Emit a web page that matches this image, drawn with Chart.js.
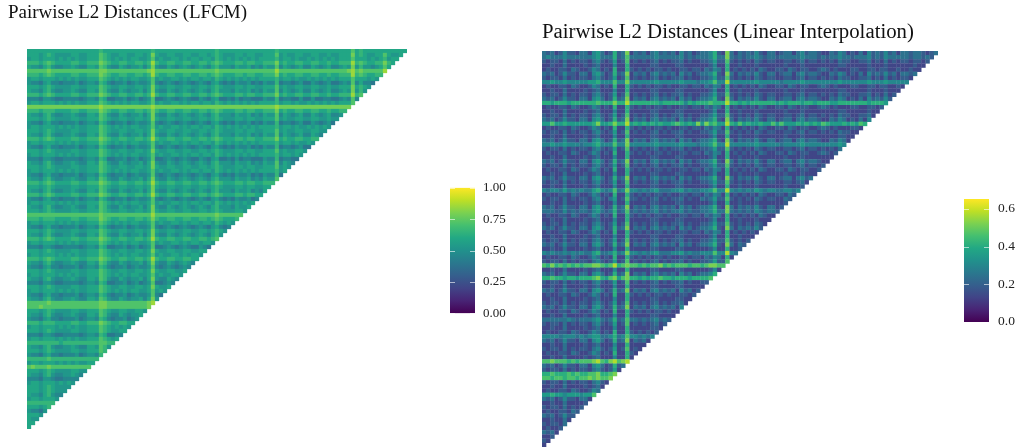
<!DOCTYPE html>
<html>
<head>
<meta charset="utf-8">
<script src="https://cdn.jsdelivr.net/npm/chart.js@4"></script>
<style>
  html, body { margin: 0; background: #fff; overflow: hidden; }
  canvas { position: absolute; }
</style>
</head>
<body>
<canvas id="lfcm" style="left:8px;top:0" width="399" height="429"></canvas>
<canvas id="lfcmBar" style="left:450px;top:172px" width="62" height="157"></canvas>
<canvas id="linear" style="left:542px;top:20px" width="396" height="427"></canvas>
<canvas id="linearBar" style="left:964px;top:182px" width="53" height="157"></canvas>
<script>
// one digit per cell, upper-left triangle only
const lfcmRows = [
"44444 44444 44444 44454 44444 44444 45444 44444 44444 44544 44444 44444 44544 44444 44444 44444 46454 44444 44444",
"44434 54333 34433 44465 43344 33443 47433 44334 43344 34543 33443 44334 44634 33443 34433 43344 47454 33446 43344",
"34434 44343 43433 44465 43434 34433 46343 34434 34434 43543 43434 34344 44534 43433 43434 34344 46444 34345 34434",
"55545 65444 45544 55576 54455 44554 58544 55445 54455 45654 44554 55445 55745 44554 45544 54455 58565 44557 54455",
"43324 53223 34322 44365 32243 23342 47322 43234 32343 24533 32433 42324 33624 32342 24323 42234 37353 32346 42243",
"66666 76666 66666 66677 66666 66666 78666 66666 66666 66766 66666 66666 66866 66666 66666 66666 78676 66668",
"55545 65444 45544 55576 54455 44554 58544 55445 54455 45654 44554 55445 55745 44554 45544 54455 58565 44557",
"34434 44343 43433 44465 43434 34433 46343 34434 34434 43543 43434 34344 44534 43433 43434 34344 46444 34345",
"32213 42212 22312 33254 21223 12322 36212 32123 21232 13421 21322 31213 22512 21231 13212 31123 26242 21235",
"44434 54333 34433 44465 43344 33443 47433 44334 43344 34543 33443 44334 44634 33443 34433 43344 47454 33446",
"43324 53223 34322 44365 32243 23342 47322 43234 32343 24533 32433 42324 33624 32342 24323 42234 37353",
"55545 65444 45544 55576 54455 44554 58544 55445 54455 45654 44554 55445 55745 44554 45544 54455 58565",
"22213 32112 22212 33254 11223 12312 36112 32123 21132 13411 21312 21113 22512 21131 13112 21123 26232",
"34434 44343 43433 44465 43434 34433 46343 34434 34434 43543 43434 34344 44534 43433 43434 34344 46444",
"77777 77777 77777 77787 77777 77777 78777 77777 77777 77777 77777 77777 77877 77777 77777 77777 77787",
"55545 55444 45544 55576 54455 44554 57544 55445 54455 45654 44554 55445 55745 44554 45544 54455",
"43324 53223 34322 44365 32243 23342 47322 43234 32343 24533 32433 42324 33624 32342 24323 42234",
"44434 54333 34433 44465 43344 33443 47433 44334 43344 34543 33443 44334 44634 33443 34433 43344",
"32213 42212 22312 33254 21223 12322 36212 32123 21232 13421 21322 31213 22512 21231 13212 31123",
"34434 44343 43433 44465 43434 34433 46343 34434 34434 43543 43434 34344 44534 43433 43434 34344",
"44434 54333 34433 44465 43344 33443 47433 44334 43344 34543 33443 44334 44634 33443 34433",
"43324 53223 34322 44365 32243 23342 47322 43234 32343 24533 32433 42324 33624 32342 24323",
"55545 65444 45544 55576 54455 44554 58544 55445 54455 45654 44554 55445 55745 44554 45544",
"34434 44343 43433 44465 43434 34433 46343 34434 34434 43543 43434 34344 44534 43433 43434",
"32213 42212 22312 33254 21223 12322 36212 32123 21232 13421 21322 31213 22512 21231 13212",
"44434 54333 34433 44465 43344 33443 47433 44334 43344 34543 33443 44334 44634 33443",
"34434 44343 43433 44465 43434 34433 46343 34434 34434 43543 43434 34344 44534 43433",
"22213 32112 22212 33254 11223 12312 36112 32123 21132 13411 21312 21113 22512 21131",
"43324 53223 34322 44365 32243 23342 47322 43234 32343 24533 32433 42324 33624 32342",
"44434 54333 34433 44465 43344 33443 47433 44334 43344 34543 33443 44334 44634 33443",
"34434 44343 43433 44465 43434 34433 46343 34434 34434 43543 43434 34344 44534",
"32213 42212 22312 33254 21223 12322 36212 32123 21232 13421 21322 31213 22512",
"43324 53223 34322 44365 32243 23342 47322 43234 32343 24533 32433 42324 33624",
"55545 65444 45544 55576 54455 44554 58544 55445 54455 45654 44554 55445 55745",
"44434 54333 34433 44465 43344 33443 47433 44334 43344 34543 33443 44334 44634",
"43324 53223 34322 44365 32243 23342 47322 43234 32343 24533 32433 42324",
"55545 65444 45544 55576 54455 44554 58544 55445 54455 45654 44554 55445",
"32213 42212 22312 33254 21223 12322 36212 32123 21232 13421 21322 31213",
"34434 44343 43433 44465 43434 34433 46343 34434 34434 43543 43434 34344",
"43324 53223 34322 44365 32243 23342 47322 43234 32343 24533 32433 42324",
"44434 54333 34433 44465 43344 33443 47433 44334 43344 34543 33443",
"66666 66666 66666 66676 66666 66666 68666 66666 66666 66766 66666",
"55545 55444 45544 55576 54455 44554 57544 55445 54455 45654 44554",
"34434 44343 43433 44465 43434 34433 46343 34434 34434 43543 43434",
"32213 42212 22312 33254 21223 12322 36212 32123 21232 13421 21322",
"44434 54333 34433 44465 43344 33443 47433 44334 43344 34543",
"43324 53223 34322 44365 32243 23342 47322 43234 32343 24533",
"55545 65444 45544 55576 54455 44554 58544 55445 54455 45654",
"34434 44343 43433 44465 43434 34433 46343 34434 34434 43543",
"22213 32112 22212 33254 11223 12312 36112 32123 21132 13411",
"44434 54333 34433 44465 43344 33443 47433 44334 43344",
"34434 44343 43433 44465 43434 34433 46343 34434 34434",
"55545 65444 45544 55576 54455 44554 58544 55445 54455",
"43324 53223 34322 44365 32243 23342 47322 43234 32343",
"32213 42212 22312 33254 21223 12322 36212 32123 21232",
"44434 54333 34433 44465 43344 33443 47433 44334",
"34434 44343 43433 44465 43434 34433 46343 34434",
"43324 53223 34322 44365 32243 23342 47322 43234",
"22213 32112 22212 33254 11223 12312 36112 32123",
"44434 54333 34433 44465 43344 33443 47433 44334",
"34434 44343 43433 44465 43434 34433 46343",
"32213 42212 22312 33254 21223 12322 36212",
"43324 53223 34322 44365 32243 23342 47322",
"66666 76666 66666 66677 66666 66666 78666",
"66676 66666 66666 66677 66666 66666 78666",
"44434 54333 34433 44465 43344 33443",
"43324 53223 34322 44365 32243 23342",
"32213 42212 22312 33254 21223 12322",
"55545 55444 45544 55576 54455 44554",
"34434 44343 43433 44465 43434 34433",
"44434 54333 34433 44465 43344",
"22213 32112 22212 33254 11223",
"34434 44343 43433 44465 43434",
"55555 55545 55555 55566 55555",
"43324 53223 34322 44365 32243",
"44434 54333 34433 44465",
"32213 42212 22312 33254",
"55555 65555 55555 55567",
"34434 44343 43433 44465",
"67666 76666 66666 66677",
"44434 54333 34433",
"43324 53223 34322",
"22213 32112 22212",
"34434 44343 43433",
"44434 54333 34433",
"44434 54333",
"43324 53223",
"34434 44343",
"55555 55555",
"44434 54333",
"32213",
"44434",
"43324",
"44434",
"44444"
];
const lfcmLow = 0.33, lfcmStep = 0.065, lfcmBarMax = 1;
const lfcmTicks = [0, 0.25, 0.5, 0.75, 1];

const linearRows = [
"32312 42213 31453 12623 81323 13423 23142 31233 46218 31323 24213 31233 13423 32113 24312 13142 32423 13323 32123",
"34333 43333 33453 33623 73333 33433 33342 32333 46338 32323 34323 32333 33433 32323 34332 33342 32433 33323 32323",
"21221 31212 21342 12512 71212 12312 12231 21122 35227 21212 13212 21122 12312 21212 13221 12231 21312 12212 21212",
"11211 31111 21231 11411 61111 12211 11221 11111 24116 11211 12111 11121 11211 11111 12211 11121 11211 11112 11111",
"12112 21321 12431 21611 62121 21221 21122 12213 24316 12121 21321 12213 21221 12321 21112 21122 12211 21121 12121",
"32312 42213 31453 12623 81323 13423 23142 31233 46218 31323 24213 31233 13423 32113 24312 13142 32423 13323",
"21221 31212 21342 12512 71212 12312 12231 21122 35227 21212 13212 21122 12312 21212 13221 12231 21312 12212",
"44544 54444 45564 44744 84444 44544 44454 44344 57449 44444 45444 44344 44544 44444 45444 44454 44544 44434",
"12112 21321 12431 21611 62121 21221 21122 12213 24316 12121 21321 12213 21221 12321 21112 21122 12211 21121",
"11211 31111 21231 11411 61111 12211 11221 11111 24116 11211 12111 11121 11211 11111 12211 11121 11211 11112",
"21221 31212 21342 12512 71212 12312 12231 21122 35227 21212 13212 21122 12312 21212 13221 12231 21312",
"32312 42213 31453 12623 81323 13423 23142 31233 46218 31323 24213 31233 13423 32113 24312 13142 32423",
"66566 65666 66676 66866 96666 66656 66664 65666 76669 66565 66666 65656 66566 56665 56666 66656 66566",
"12112 21321 12431 21611 62121 21221 21122 12213 24316 12121 21321 12213 21221 12321 21112 21122 12211",
"11211 31111 21231 11411 61111 12211 11221 11111 24116 11211 12111 11121 11211 11111 12211 11121 11211",
"21221 31212 21342 12512 71212 12312 12231 21122 35227 21212 13212 21122 12312 21212 13221 12231",
"32312 42213 31453 12623 81323 13423 23142 31233 46218 31323 24213 31233 13423 32113 24312 13142",
"55755 65555 55685 56866 95656 56565 56765 65858 67559 65756 55655 75755 56565 65765 55656 57656",
"12112 21321 12431 21611 62121 21221 21122 12213 24316 12121 21321 12213 21221 12321 21112 21122",
"21221 31212 21342 12512 71212 12312 12231 21122 35227 21212 13212 21122 12312 21212 13221 12231",
"11211 31111 21231 11411 61111 12211 11221 11111 24116 11211 12111 11121 11211 11111 12211",
"32312 42213 31453 12623 81323 13423 23142 31233 46218 31323 24213 31233 13423 32113 24312",
"44544 54443 44564 44744 84444 44544 44454 44344 57449 44444 45444 44344 44544 44444 45444",
"21221 31212 21342 12512 71212 12312 12231 21122 35227 21212 13212 21122 12312 21212 13221",
"12112 21321 12431 21611 62121 21221 21122 12213 24316 12121 21321 12213 21221 12321 21112",
"11211 31111 21231 11411 61111 12211 11221 11111 24116 11211 12111 11121 11211 11111",
"32312 42213 31453 12623 81323 13423 23142 31233 46218 31323 24213 31233 13423 32113",
"21221 31212 21342 12512 71212 12312 12231 21122 35227 21212 13212 21122 12312 21212",
"12112 21321 12431 21611 62121 21221 21122 12213 24316 12121 21321 12213 21221 12321",
"11211 31111 21231 11411 61111 12211 11221 11111 24116 11211 12111 11121 11211 11111",
"32312 42213 31453 12623 81323 13423 23142 31233 46218 31323 24213 31233 13423",
"21221 31212 21342 12512 71212 12312 12231 21122 35227 21212 13212 21122 12312",
"11211 31111 21231 11411 61111 12211 11221 11111 24116 11211 12111 11121 11211",
"43443 53434 33564 34734 84434 34533 34453 43344 57449 43434 35434 43344 34533",
"12112 21321 12431 21611 62121 21221 21122 12213 24316 12121 21321 12213 21221",
"21221 31212 21342 13512 72212 12312 12231 21132 35227 21212 13212 21132",
"11211 31111 21231 11411 61111 12211 11221 11111 24116 11211 12111 11121",
"32312 42213 31453 12623 81323 13423 23142 31233 46218 31323 24213 31233",
"33322 42323 32453 23623 72323 23423 23342 32233 46338 32323 24323 32233",
"12112 21321 12431 21611 62121 21221 21122 12213 24316 12121 21321 12213",
"11211 31111 21231 11411 61111 12211 11221 11111 24116 11211 12111",
"21221 31212 21342 12512 71212 12312 12231 21122 35227 21212 13212",
"32312 42213 31453 12623 81323 13423 23142 31233 46218 31323 24213",
"12112 21321 12431 21611 62121 21221 21122 12213 24316 12121 21321",
"11211 31111 21231 11411 61111 12211 11221 11111 24116 11211 12111",
"21221 31212 21342 12512 71212 12312 12231 21122 35227 21212",
"32312 42213 31453 12623 81323 13423 23142 31233 46218 31323",
"11211 31111 21231 11411 61111 12211 11221 11111 24116 11211",
"43433 43434 33563 34634 84434 34533 34453 43344 47449 43434",
"12112 21321 12431 21611 62121 21221 21122 12213 24316 12121",
"21221 31212 21342 12512 71212 12312 12231 21122 35227",
"76867 67676 77887 67967 87767 67786 76777 67767 88779",
"11211 31111 21231 11411 61111 12211 11221 11111 24116",
"32312 42213 31453 12623 81323 13423 23142 31233 46218",
"66766 56656 66786 57857 86656 56676 65666 56666 77668",
"21221 31212 21342 12512 71212 12312 12231 21122",
"11211 31111 21231 11411 61111 12211 11221 11111",
"32312 42213 31453 12623 81323 13423 23142 31233",
"12112 21321 12431 21611 62121 21221 21122 12213",
"11211 31111 21231 11411 61111 12211 11221 11111",
"21221 31212 21342 12512 71212 12312 12231",
"32312 42213 31453 12623 81323 13423 23142",
"12112 21321 12431 21611 62121 21221 21122",
"11211 31111 21231 11411 61111 12211 11221",
"33333 34323 33453 23623 73323 23423 23342",
"21221 31212 21342 12512 71212 12312",
"11211 31111 21231 11411 61111 12211",
"12112 21321 12431 21611 62121 21221",
"44443 44434 34553 34634 74434 34433",
"32312 42213 31453 12623 81323 13423",
"11211 31111 21231 11411 61111",
"21221 31212 21342 12512 71212",
"12112 21321 12431 21611 62121",
"11211 31111 21231 11411 61111",
"77877 76767 77897 68978 97767",
"32312 42213 31453 12623",
"21221 31212 21342 12512",
"66766 67676 67786 67867",
"77677 67767 78787 78878",
"21221 31212 21342 12512",
"11211 31111 21231",
"12112 21321 12431",
"55655 45554 55765",
"32312 42213 31453",
"11211 31111 21231",
"21221 31212",
"12112 21321",
"32312 42213",
"11211 31111",
"21221 31212",
"12112",
"32312",
"11211",
"21221",
"11211"
];
const linearLow = 0.08, linearStep = 0.055, linearBarMax = 0.652;
const linearTicks = [0, 0.2, 0.4, 0.6];

const gridSize = 95;
const viridis = ["#440154", "#482475", "#414487", "#355f8d", "#2a788e", "#21918c", "#22a884", "#44bf70", "#7ad151", "#bddf26", "#fde725"];
const serif = '"Liberation Serif", serif';

function viridisAt(t) {
  const pos = Math.min(Math.max(t, 0), 1) * (viridis.length - 1);
  const i = Math.min(Math.floor(pos), viridis.length - 2);
  const a = parseInt(viridis[i].slice(1), 16), b = parseInt(viridis[i + 1].slice(1), 16);
  const mix = (s) => Math.round(((a >> s) & 255) * (1 - pos + i) + ((b >> s) & 255) * (pos - i));
  return `rgb(${mix(16)}, ${mix(8)}, ${mix(0)})`;
}

function heatmap(id, rows, low, step, barMax, titleText, titleSize, titleTop, titleBottom, leftPad) {
  const points = [], colors = [];
  rows.forEach((row, r) => {
    const cells = row.replace(/ /g, "").slice(0, gridSize - r);
    for (let c = 0; c < cells.length; c++) {
      const value = low + step * Number(cells[c]);
      points.push({ x: c + 0.5, y: r + 0.5, v: value });
      colors.push(viridisAt(value / barMax));
    }
  });
  new Chart(document.getElementById(id), {
    type: "scatter",
    data: {
      datasets: [{
        data: points,
        pointStyle: "rect",
        pointBackgroundColor: colors,
        pointBorderWidth: 0,
        pointRadius: (ctx) => (ctx.chart.chartArea ? (ctx.chart.chartArea.width / gridSize) * 0.76 : 2),
      }],
    },
    options: {
      responsive: false,
      animation: false,
      events: [],
      layout: { autoPadding: false },
      plugins: {
        legend: { display: false },
        tooltip: { enabled: false },
        title: {
          display: true,
          text: titleText,
          align: "start",
          color: "#111",
          font: { family: serif, size: titleSize, weight: "normal" },
          padding: { top: titleTop, bottom: titleBottom },
        },
      },
      scales: {
        x: { type: "linear", min: 0, max: gridSize, display: false },
        y: {
          type: "linear",
          min: 0,
          max: gridSize,
          reverse: true,
          grid: { display: false },
          border: { display: false },
          ticks: { display: false },
          afterFit: (s) => { s.width = leftPad; },
        },
      },
    },
  });
}

const tickMarks = {
  id: "tickMarks",
  afterDatasetsDraw(chart) {
    const { ctx, chartArea, scales } = chart;
    ctx.save();
    ctx.strokeStyle = "rgba(255, 255, 255, 0.6)";
    ctx.lineWidth = 1;
    scales.y.ticks.forEach((t) => {
      const y = Math.round(scales.y.getPixelForValue(t.value)) + 0.5;
      ctx.beginPath();
      ctx.moveTo(chartArea.left, y);
      ctx.lineTo(chartArea.left + 5, y);
      ctx.moveTo(chartArea.right - 5, y);
      ctx.lineTo(chartArea.right, y);
      ctx.stroke();
    });
    ctx.restore();
  },
};

function colorBar(id, barMax, ticks, digits, fontSize, pad) {
  new Chart(document.getElementById(id), {
    type: "bar",
    data: {
      labels: [""],
      datasets: [{
        data: [[0, barMax]],
        barPercentage: 1,
        categoryPercentage: 1,
        borderWidth: 0,
        backgroundColor: (c) => {
          const area = c.chart.chartArea;
          if (!area) return viridis[5];
          const g = c.chart.ctx.createLinearGradient(0, area.bottom, 0, area.top);
          viridis.forEach((col, i) => g.addColorStop(i / (viridis.length - 1), col));
          return g;
        },
      }],
    },
    options: {
      responsive: false,
      animation: false,
      events: [],
      layout: { autoPadding: false, padding: { top: 4, bottom: 4 } },
      plugins: { legend: { display: false }, tooltip: { enabled: false } },
      scales: {
        x: { display: false },
        y: {
          position: "right",
          min: 0,
          max: barMax,
          grid: { display: false, drawTicks: false },
          border: { display: false },
          afterFit: (s) => { s.width = s.chart.width - 25; },
          afterBuildTicks: (s) => { s.ticks = ticks.map((value) => ({ value })); },
          ticks: {
            padding: pad,
            color: "#222",
            font: { family: serif, size: fontSize },
            callback: (v) => Number(v).toFixed(digits),
          },
        },
      },
    },
    plugins: [tickMarks],
  });
}

heatmap("lfcm", lfcmRows, lfcmLow, lfcmStep, lfcmBarMax, "Pairwise L2 Distances (LFCM)", 19, 2, 24.2, 19);
colorBar("lfcmBar", lfcmBarMax, lfcmTicks, 2, 13, 8);
heatmap("linear", linearRows, linearLow, linearStep, linearBarMax, "Pairwise L2 Distances (Linear Interpolation)", 20.8, 0, 6, 0);
colorBar("linearBar", linearBarMax, linearTicks, 1, 13.5, 9);
</script>
</body>
</html>
